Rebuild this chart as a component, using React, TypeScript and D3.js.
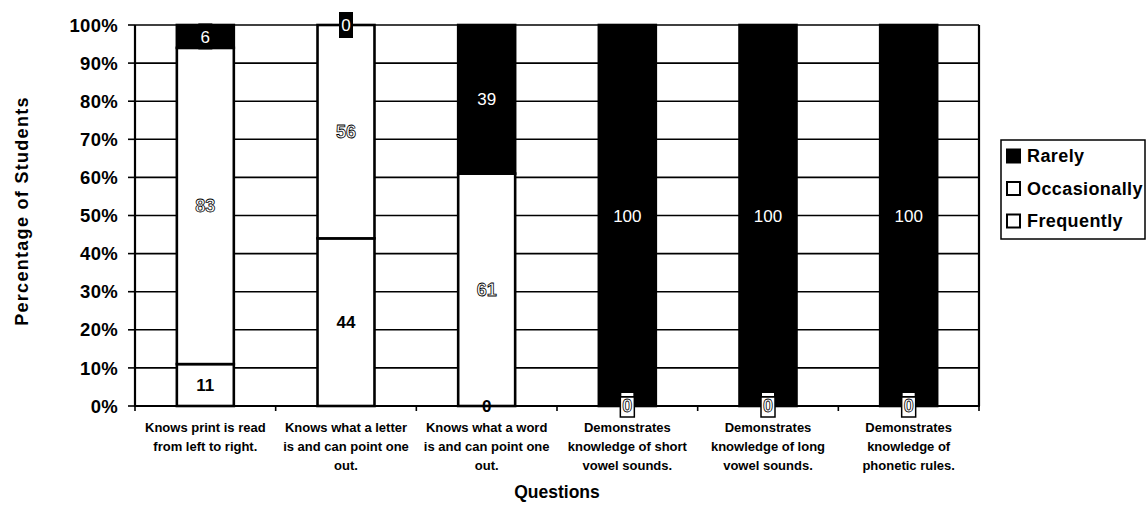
import React from "react";
import * as d3 from "d3";

// Question categories (each entry is the wrapped lines of its axis label)
const categories: string[][] = [
  ["Knows print is read", "from left to right."],
  ["Knows what a letter", "is and can point one", "out."],
  ["Knows what a word", "is and can point one", "out."],
  ["Demonstrates", "knowledge of short", "vowel sounds."],
  ["Demonstrates", "knowledge of long", "vowel sounds."],
  ["Demonstrates", "knowledge of", "phonetic rules."],
];

// Percentages per response, stacked bottom to top: Frequently, Occasionally, Rarely
const frequently = [11, 44, 0, 0, 0, 0];
const occasionally = [83, 56, 61, 0, 0, 0];
const rarely = [6, 0, 39, 100, 100, 100];

const seriesNames = ["Frequently", "Occasionally", "Rarely"];
const legendOrder = ["Rarely", "Occasionally", "Frequently"];
const yTicks = [0, 10, 20, 30, 40, 50, 60, 70, 80, 90, 100];

const FONT = "'Liberation Sans', Arial, Helvetica, sans-serif";

export default function App() {
  const width = 1146;
  const height = 506;
  const left = 135;
  const right = 979;
  const top = 25;
  const bottom = 406;

  const ids = categories.map((_, i) => String(i));
  const x = d3
    .scaleBand<string>()
    .domain(ids)
    .range([left, right])
    .paddingInner(0.595)
    .paddingOuter(0.2975);
  const slot = d3.scaleBand<string>().domain(ids).range([left, right]).padding(0);
  const y = d3.scaleLinear().domain([0, 100]).range([bottom, top]);

  const table = ids.map((id, i) => ({
    id,
    Frequently: frequently[i],
    Occasionally: occasionally[i],
    Rarely: rarely[i],
  }));
  const stacked = d3.stack<any>().keys(seriesNames)(table);

  const fillFor: Record<string, string> = {
    Frequently: "#ffffff",
    Occasionally: "#ffffff",
    Rarely: "#000000",
  };

  const bw = x.bandwidth();

  return (
    <svg width={width} height={height} style={{ display: "block", position: "absolute", left: 0, top: 0 }}>
      <rect x={0} y={0} width={width} height={height} fill="#fff" />

      {/* horizontal gridlines */}
      {yTicks.map((t) => (
        <line key={"g" + t} x1={left} x2={right} y1={y(t)} y2={y(t)} stroke="#000" strokeWidth={1.6} />
      ))}

      {/* plot frame: left axis and right edge */}
      <line x1={left} x2={left} y1={top} y2={bottom} stroke="#000" strokeWidth={2.2} />
      <line x1={right} x2={right} y1={top} y2={bottom} stroke="#000" strokeWidth={2.2} />

      {/* stacked bars */}
      {stacked.map((layer) =>
        layer.map((d, i) => {
          const h = y(d[0]) - y(d[1]);
          if (h <= 0) return null;
          return (
            <rect
              key={layer.key + i}
              x={x(ids[i])!}
              y={y(d[1])}
              width={bw}
              height={h}
              fill={fillFor[layer.key]}
              stroke="#000"
              strokeWidth={2.6}
            />
          );
        })
      )}

      {/* x axis */}
      <line x1={left - 1} x2={right + 1} y1={bottom} y2={bottom} stroke="#000" strokeWidth={2.2} />
      {ids.concat(["end"]).map((id, i) => {
        const xx = i < ids.length ? slot(id)! : right;
        return <line key={"xt" + i} x1={xx} x2={xx} y1={bottom} y2={bottom + 5} stroke="#000" strokeWidth={1.6} />;
      })}

      {/* y axis ticks and labels */}
      {yTicks.map((t) => (
        <g key={"yt" + t}>
          <line x1={left - 7} x2={left} y1={y(t)} y2={y(t)} stroke="#000" strokeWidth={1.6} />
          <text
            x={118}
            y={y(t)}
            dy="0.36em"
            textAnchor="end"
            fontFamily={FONT}
            fontWeight="bold"
            fontSize={18.5}
            letterSpacing={0.3}
            fill="#000"
          >
            {t + "%"}
          </text>
        </g>
      ))}

      {/* data labels */}
      {stacked.map((layer) =>
        layer.map((d, i) => {
          const val = d[1] - d[0];
          const cx = x(ids[i])! + bw / 2;
          const cy = y((d[0] + d[1]) / 2);
          const key = layer.key;
          if (key === "Rarely") {
            return (
              <g key={"l" + key + i}>
                <rect x={cx - 7} y={cy - 13} width={14} height={26} fill="#000" />
                <text x={cx} y={cy} dy="0.36em" textAnchor="middle" fontFamily={FONT} fontSize={17} fill="#fff">
                  {val}
                </text>
              </g>
            );
          }
          if (key === "Occasionally") {
            return (
              <g key={"l" + key + i}>
                {val === 0 && <rect x={cx - 6} y={cy - 13} width={12} height={3} fill="#fff" />}
                {val === 0 && <rect x={cx - 7} y={cy - 9} width={14} height={20} fill="#fff" stroke="#000" strokeWidth={1.5} />}
                <text
                  x={cx}
                  y={cy}
                  dy="0.36em"
                  textAnchor="middle"
                  fontFamily={FONT}
                  fontWeight="bold"
                  fontSize={18}
                  fill="#fff"
                  stroke="#000"
                  strokeWidth={0.8}
                >
                  {val}
                </text>
              </g>
            );
          }
          return (
            <text
              key={"l" + key + i}
              x={cx}
              y={cy}
              dy="0.36em"
              textAnchor="middle"
              fontFamily={FONT}
              fontWeight="bold"
              fontSize={17}
              fill="#000"
            >
              {val}
            </text>
          );
        })
      )}

      {/* category labels */}
      {categories.map((lines, i) => {
        const cx = slot(ids[i])! + slot.bandwidth() / 2;
        return (
          <text key={"c" + i} textAnchor="middle" fontFamily={FONT} fontWeight="bold" fontSize={13} letterSpacing={0} fill="#000">
            {lines.map((ln, j) => (
              <tspan key={j} x={cx} y={427 + j * 19} dy="0.36em">
                {ln}
              </tspan>
            ))}
          </text>
        );
      })}

      {/* axis titles */}
      <text x={(left + right) / 2} y={492} dy="0.36em" textAnchor="middle" fontFamily={FONT} fontWeight="bold" fontSize={17.5} fill="#000">
        Questions
      </text>
      <text
        transform={`translate(22, ${(97 + 325) / 2}) rotate(-90)`}
        dy="0.36em"
        textAnchor="middle"
        fontFamily={FONT}
        fontWeight="bold"
        fontSize={18}
        letterSpacing={1.3}
        fill="#000"
      >
        Percentage of Students
      </text>

      {/* legend */}
      <rect x={1001} y={140} width={144} height={99} fill="#fff" stroke="#000" strokeWidth={1.5} />
      {legendOrder.map((name, i) => {
        const ly = 156 + i * 32.5;
        return (
          <g key={"lg" + name}>
            <rect x={1007} y={ly - 6.5} width={13} height={13} fill={fillFor[name]} stroke="#000" strokeWidth={2} />
            <text x={1027} y={ly} dy="0.36em" fontFamily={FONT} fontWeight="bold" fontSize={18} letterSpacing={0.4} fill="#000">
              {name}
            </text>
          </g>
        );
      })}
    </svg>
  );
}
